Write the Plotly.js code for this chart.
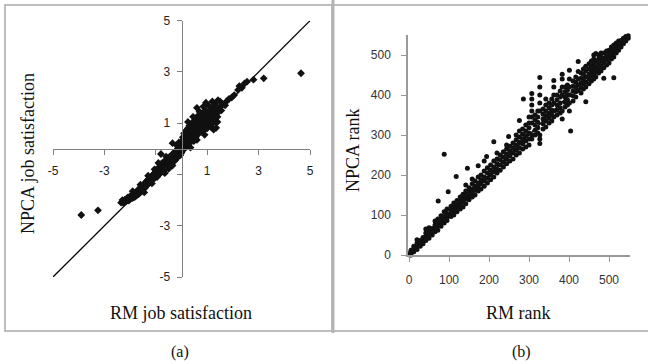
<!DOCTYPE html>
<html><head><meta charset="utf-8">
<script src="https://cdn.plot.ly/plotly-3.0.1.min.js"></script>
<style>html,body{margin:0;padding:0;background:#fff;}#chart{width:648px;height:364px;}</style>
</head><body><div id="chart"></div>
<script>
// ---------- data ----------
const satTicks = [-5, -3, -1, 1, 3, 5];
const satTickText = ['-5', '-3', '', '1', '3', '5'];
const rankTicks = [0, 100, 200, 300, 400, 500];
const rankTickText = ['0', '100', '200', '300', '400', '500'];
const satLimits = [-5, 5];
const rankLimits = [0, 555];
const titles = {
  aY: 'NPCA job satisfaction', aX: 'RM job satisfaction',
  bY: 'NPCA rank', bX: 'RM rank', aLabel: '(a)', bLabel: '(b)'
};
// [RM job satisfaction, NPCA job satisfaction]
const satPoints = [
 [-3.9,-2.58],[-3.25,-2.4],
 [-2.35,-2.1],[-2.3,-2.0],[-2.25,-2.12],[-2.2,-1.98],[-2.15,-2.05],[-2.1,-1.9],[-2.05,-2.02],[-2.0,-1.85],[-1.98,-1.95],[-1.92,-1.8],[-1.9,-1.92],[-1.85,-1.75],[-1.82,-1.88],[-1.78,-1.7],[-1.75,-1.82],[-1.7,-1.62],[-1.68,-1.78],[-1.64,-1.55],[-1.6,-1.7],[-1.58,-1.5],[-1.55,-1.62],[-1.5,-1.45],[-1.48,-1.58],[-1.45,-1.38],[-1.42,-1.52],[-1.4,-1.3],[-1.38,-1.45],[-1.35,-1.25],[-1.32,-1.4],[-1.3,-1.2],[-1.28,-1.35],[-1.25,-1.15],[-1.22,-1.3],[-1.2,-1.1],[-1.18,-1.25],[-1.15,-1.05],[-1.12,-1.2],[-1.1,-1.0],[-1.08,-1.15],[-1.05,-0.95],[-1.02,-1.12],[-1.0,-0.9],[-1.0,-1.05],[-0.98,-0.82],
 [-1.9,-1.65],[-1.6,-1.4],[-1.45,-1.7],[-1.3,-1.05],[-1.15,-1.35],[-1.05,-0.8],
 [-0.95,-1.1],[-0.95,-0.95],[-0.92,-0.8],[-0.9,-1.02],[-0.9,-0.88],[-0.88,-0.72],[-0.85,-0.98],[-0.85,-0.85],[-0.83,-0.68],[-0.8,-0.92],[-0.8,-0.78],[-0.8,-0.6],[-0.8,-0.2],[-0.78,-0.85],[-0.75,-0.7],[-0.75,-0.55],[-0.72,-0.88],[-0.7,-0.78],[-0.7,-0.62],[-0.68,-0.5],[-0.65,-0.82],[-0.65,-0.7],[-0.63,-0.55],[-0.6,-0.45],[-0.6,-0.75],[-0.58,-0.62],[-0.55,-0.5],[-0.55,-0.38],[-0.53,-0.7],[-0.5,-0.58],[-0.5,-0.45],[-0.48,-0.32],[-0.45,-0.62],[-0.45,-0.5],[-0.43,-0.38],[-0.4,-0.28],[-0.4,-0.55],[-0.38,-0.45],[-0.35,-0.32],[-0.35,-0.2],[-0.33,-0.5],[-0.3,-0.4],[-0.3,-0.25],[-0.28,-0.15],[-0.25,-0.45],[-0.25,-0.32],[-0.23,-0.2],[-0.2,-0.08],[-0.2,-0.38],[-0.18,-0.25],[-0.15,-0.12],[-0.15,0.0],[-0.13,-0.3],[-0.1,-0.2],[-0.1,-0.05],[-0.08,0.08],[-0.05,-0.25],[-0.05,-0.1],[-0.03,0.05],[-0.35,0.22],[-0.2,0.15],[-0.1,0.25],
 [-0.65,-0.95],[-0.5,-0.78],[-0.35,-0.65],[-0.9,-0.55],[-0.6,-0.3],
 [0.0,-0.15],[0.0,0.0],[0.0,0.15],[0.02,0.3],[0.05,-0.05],[0.05,0.1],[0.05,0.45],[0.08,0.25],[0.1,0.0],[0.1,0.15],[0.1,0.6],[0.12,0.35],[0.15,0.05],[0.15,0.2],[0.15,0.5],[0.18,0.72],[0.2,0.1],[0.2,0.3],[0.2,0.6],[0.22,0.45],[0.25,0.15],[0.25,0.8],[0.28,0.35],[0.3,0.55],[0.3,0.2],[0.3,0.9],[0.32,0.7],[0.35,0.3],[0.35,0.45],[0.38,0.85],[0.4,0.6],[0.4,0.35],[0.4,1.0],[0.42,0.75],[0.45,0.5],[0.45,0.9],[0.48,0.3],[0.5,0.65],[0.5,1.1],[0.52,0.8],[0.55,0.45],[0.55,0.95],[0.58,1.2],[0.6,0.7],[0.6,0.55],[0.62,1.05],[0.65,0.85],[0.65,1.3],[0.68,0.6],[0.7,1.0],[0.72,0.75],[0.72,1.15],[0.75,0.9],[0.78,1.25],[0.8,0.65],[0.8,1.05],[0.82,1.4],[0.85,0.85],[0.85,1.2],[0.88,1.0],[0.9,0.75],[0.9,1.3],[0.92,1.1],[0.95,0.9],[0.95,1.5],[0.98,1.25],[1.0,1.0],[1.0,0.8],[1.02,1.35],[1.05,1.15],[1.08,0.95],[1.1,1.45],[1.1,1.25],[1.12,1.05],[1.15,0.85],[1.18,1.35],[1.2,1.15],[1.2,1.6],[1.22,1.0],[1.25,1.3],[1.25,0.75],[1.28,1.5],[1.3,1.2],[1.3,1.75],[1.32,1.05],[1.35,1.4],[1.35,0.82],[1.38,1.6],[1.4,1.25],[1.42,1.9],[1.45,1.45],[1.5,1.65],[1.5,1.85],[1.55,1.5],[1.6,1.75],[1.2,1.85],[1.05,1.7],[0.95,1.8],
 [0.25,1.05],[0.45,1.25],[0.7,1.45],[0.6,1.6],[0.85,1.65],[1.15,1.05],[1.4,1.05],[0.35,0.05],[0.6,0.35],[0.9,0.55],
 [1.7,1.7],[1.75,1.85],[1.85,1.95],[1.95,2.0],[2.05,2.1],[2.2,2.3],[2.25,2.45],[2.35,2.38],[2.45,2.55],[2.55,2.62],[2.8,2.7],[3.2,2.75],[4.65,2.95]
];
// [RM rank, [NPCA ranks observed at that RM rank]]
const rankStacks = [
 [2,[0,4]],[5,[0,6,12]],[12,[8,16,22]],[20,[14,22,30,38]],[28,[22,30,36]],[35,[28,36,44]],
 [42,[36,46,55,65]],[50,[42,50,58,68]],[58,[50,58,66]],[65,[58,66,75,85]],[72,[62,72,80,90]],[73,[135]],
 [80,[72,80,88,98]],[88,[80,88,96,108,252]],[95,[86,94,104,115]],[98,[158]],[105,[96,104,112,122]],
 [112,[100,110,120,130]],[118,[196]],[120,[108,118,126,136]],[128,[115,125,135,145]],[135,[120,132,142,152]],
 [142,[128,140,150,160,175]],[146,[217]],[150,[138,148,158,168]],[158,[145,155,165,178,190]],
 [165,[150,162,172,185]],[173,[160,170,180,195,223]],[180,[165,178,188,200]],[188,[172,185,195,210,235]],
 [194,[246]],[196,[180,192,205,218]],[204,[188,200,212,225]],[212,[195,208,220,235,283]],
 [220,[205,215,228,240,255]],[228,[212,225,238,250]],[236,[220,232,245,258]],[244,[228,240,252,265,275]],
 [249,[296]],[252,[235,248,260,272]],[260,[240,255,268,280]],[268,[250,262,275,288,300]],
 [276,[255,268,282,295,310,336]],[284,[265,278,290,302,315]],[286,[390]],[292,[270,285,298,310,325]],
 [300,[275,290,305,318,330,345]],[307,[290,300,330,345,360,375,390,404]],[315,[300,312,325,338,350]],
 [322,[305,318,332,345,360]],[327,[279,290,300,360,380,400,420,444]],[335,[315,328,340,352,365]],
 [342,[320,335,348,360,375,390]],[350,[330,342,355,368,380]],[357,[335,350,362,375,390]],
 [362,[345,360,380,400,420,436]],[370,[350,362,375,388,400]],[378,[355,368,380,395,410]],
 [383,[340,360,400,420,440,452]],[390,[370,382,395,408,420]],[396,[375,388,400,412,425]],
 [401,[360,380,400,420,440,462]],[404,[310]],[410,[385,398,410,422,435]],[417,[395,408,420,432,445]],
 [423,[411,425,440,459,484]],[430,[405,418,430,442,455]],[436,[415,428,440,452,465]],
 [442,[383,420,432,445,460,472]],[450,[428,440,452,465,478]],[456,[435,448,460,472,485]],
 [462,[440,452,465,478,490,500]],[467,[445,458,470,485,504]],[474,[455,465,478,490,500]],
 [480,[460,472,485,495,505]],[487,[442,468,480,492,505]],[494,[475,488,498,510]],[500,[480,492,502,512]],
 [506,[490,500,510,520]],[512,[443,495,505,515,525]],[518,[505,515,525,530]],[524,[512,520,530,535]],
 [530,[520,528,536]],[536,[528,535,542]],[542,[535,540,546]],[548,[542,548]]
];

// ---------- layout geometry (pixels) ----------
const W = 648, H = 364;
const fx = p => p / W, fy = p => 1 - p / H;
const aLeft = 53, aRight = 310, aTop = 20.7, aBottom = 277;
const bZeroX = 409, bZeroY = 255, bScale = 0.4;
const bxRange = [-3, 552], byRange = [-1, 550];

const satX = satPoints.map(p => p[0]);
const satY = satPoints.map(p => p[1]);
const rankX = [], rankY = [];
rankStacks.forEach(s => s[1].forEach(v => { rankX.push(s[0]); rankY.push(v); }));

const tickFont = {family: 'Liberation Sans, Arial, sans-serif', size: 12, color: '#222'};
const serif = 'Liberation Serif, Times New Roman, serif';

const aXdom = [fx(aLeft), fx(aRight)];
const aYdom = [fy(aBottom), fy(aTop)];
const bXdom = [fx(bZeroX + bScale * bxRange[0]), fx(bZeroX + bScale * bxRange[1])];
const bYdom = [fy(bZeroY - bScale * byRange[0]), fy(bZeroY - bScale * byRange[1])];

const traces = [
  {x: satLimits, y: satLimits, xaxis: 'x', yaxis: 'y', mode: 'lines',
   line: {color: '#000', width: 1.3}, hoverinfo: 'skip'},
  {x: satX, y: satY, xaxis: 'x', yaxis: 'y', mode: 'markers', cliponaxis: false,
   marker: {symbol: 'diamond', size: 6, color: '#111'}},
  {x: rankLimits, y: rankLimits, xaxis: 'x2', yaxis: 'y2', mode: 'lines', cliponaxis: false,
   line: {color: '#000', width: 1.3}, hoverinfo: 'skip'},
  {x: rankX, y: rankY, xaxis: 'x2', yaxis: 'y2', mode: 'markers', cliponaxis: false,
   marker: {symbol: 'circle', size: 5, color: '#111'}}
];

const common = {showgrid: false, zeroline: false, showline: true, ticks: 'outside',
  ticklen: 5, tickwidth: 1, tickfont: tickFont, fixedrange: true};

const layout = {
  width: W, height: H, margin: {l: 0, r: 0, t: 0, b: 0},
  paper_bgcolor: '#fff', plot_bgcolor: 'rgba(0,0,0,0)', showlegend: false,
  xaxis: Object.assign({}, common, {domain: aXdom, range: satLimits, anchor: 'free',
    position: (aYdom[0] + aYdom[1]) / 2, tickvals: satTicks, ticktext: satTickText,
    linecolor: '#808080', tickcolor: '#808080', ticklabelstandoff: 6}),
  yaxis: Object.assign({}, common, {domain: aYdom, range: satLimits, anchor: 'free',
    position: (aXdom[0] + aXdom[1]) / 2, tickvals: satTicks, ticktext: satTickText,
    linecolor: '#808080', tickcolor: '#808080', ticklabelstandoff: 4}),
  xaxis2: Object.assign({}, common, {domain: bXdom, range: bxRange, anchor: 'y2',
    tickvals: rankTicks, ticktext: rankTickText, linecolor: '#999', tickcolor: '#999',
    linewidth: 1.5, ticklabelstandoff: 8, tickfont: Object.assign({}, tickFont, {color: '#333'})}),
  yaxis2: Object.assign({}, common, {domain: bYdom, range: byRange, anchor: 'x2',
    tickvals: rankTicks, ticktext: rankTickText, linecolor: '#999', tickcolor: '#999',
    linewidth: 1.5, ticklabelstandoff: 8, tickfont: Object.assign({}, tickFont, {color: '#333'})}),
  shapes: [
    {type: 'rect', xref: 'paper', yref: 'paper', x0: fx(5), x1: fx(332), y0: fy(331), y1: fy(5),
     line: {color: '#a8a8a8', width: 1.5}},
    {type: 'rect', xref: 'paper', yref: 'paper', x0: fx(333), x1: fx(660), y0: fy(331), y1: fy(5),
     line: {color: '#a8a8a8', width: 1.5}},
    {type: 'line', xref: 'paper', yref: 'paper', x0: fx(333), x1: fx(333), y0: fy(333), y1: fy(0),
     line: {color: '#b4b4b4', width: 3}}
  ],
  annotations: [
    {text: titles.aY, xref: 'paper', yref: 'paper', x: fx(28), y: fy(154), textangle: -90,
     showarrow: false, xanchor: 'center', yanchor: 'middle', font: {family: serif, size: 18, color: '#111'}},
    {text: titles.aX, xref: 'paper', yref: 'paper', x: fx(181), y: fy(313),
     showarrow: false, xanchor: 'center', yanchor: 'middle', font: {family: serif, size: 18, color: '#111'}},
    {text: titles.bY, xref: 'paper', yref: 'paper', x: fx(353), y: fy(150), textangle: -90,
     showarrow: false, xanchor: 'center', yanchor: 'middle', font: {family: serif, size: 18, color: '#111'}},
    {text: titles.bX, xref: 'paper', yref: 'paper', x: fx(518), y: fy(313),
     showarrow: false, xanchor: 'center', yanchor: 'middle', font: {family: serif, size: 18, color: '#111'}},
    {text: titles.aLabel, xref: 'paper', yref: 'paper', x: fx(180), y: fy(352),
     showarrow: false, xanchor: 'center', yanchor: 'middle', font: {family: serif, size: 16, color: '#111'}},
    {text: titles.bLabel, xref: 'paper', yref: 'paper', x: fx(521), y: fy(352),
     showarrow: false, xanchor: 'center', yanchor: 'middle', font: {family: serif, size: 16, color: '#111'}}
  ]
};

Plotly.newPlot('chart', traces, layout, {staticPlot: true, displayModeBar: false});
</script>
</body></html>
